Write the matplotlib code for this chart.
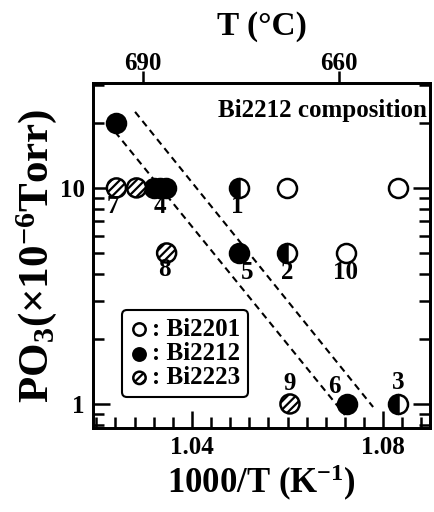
import matplotlib
matplotlib.use('Agg')
import matplotlib.pyplot as plt
from matplotlib.ticker import (FixedLocator, MultipleLocator, LogLocator,
                               NullFormatter, NullLocator, FormatStrFormatter)

plt.rcParams['font.family'] = ['Liberation Serif', 'DejaVu Serif']
plt.rcParams['font.weight'] = 'bold'
plt.rcParams['axes.labelweight'] = 'bold'
plt.rcParams['mathtext.default'] = 'regular'
plt.rcParams['hatch.linewidth'] = 1.6

# 1000/T (K^-1) vs PO3 (x10^-6 Torr)
bi2201_x = [1.0599, 1.0831, 1.0722]
bi2201_y = [10, 10, 5]
bi2212_x = [1.0241, 1.0320, 1.0333, 1.0345, 1.0498, 1.0724]
bi2212_y = [20, 10, 10, 10, 5, 1]
bi2223_x = [1.0242, 1.0284, 1.0347, 1.0605]
bi2223_y = [10, 10, 5, 1]
mixed_x = [1.0498, 1.0599, 1.0831]
mixed_y = [10, 5, 1]

# sample numbers
sample_ids = ['1', '2', '3', '4', '5', '6', '7', '8', '9', '10']
sample_x = [1.0498, 1.0599, 1.0831, 1.0333, 1.0498, 1.0724, 1.0242, 1.0347, 1.0605, 1.0722]
sample_y = [10, 5, 1, 10, 5, 1, 10, 5, 1, 5]

# dashed boundary lines
upper_x = [1.0281, 1.0779]
upper_y = [22.5, 0.968]
lower_x = [1.0239, 1.0720]
lower_y = [18.2, 0.889]

top_ticks = [1.0297, 1.0708]
top_labels = ['690', '660']

# label offsets (pixels) from the marker
label_offsets = [(-2, -19), (0, -20), (0, 21), (0, -19), (8, -20),
                 (-12, 17), (-4, -19), (-2, -17), (0, 20), (0, -20)]

fig = plt.figure(figsize=(4.35, 5.12), dpi=100)
ax = fig.add_axes([0.2138, 0.1641, 0.7747, 0.6738])

ms = 13.7
mew = 1.8
h_open = ax.scatter(bi2201_x, bi2201_y, s=ms**2, facecolor='white',
                    edgecolor='black', linewidth=mew, zorder=3)
h_fill = ax.scatter(bi2212_x, bi2212_y, s=ms**2, facecolor='black',
                    edgecolor='black', linewidth=mew, zorder=3)
h_hatch = ax.scatter(bi2223_x, bi2223_y, s=ms**2, facecolor='white',
                     edgecolor='black', hatch='////', linewidth=mew, zorder=3)
ax.plot(mixed_x, mixed_y, 'o', ms=ms, fillstyle='left', mfc='black',
        mfcalt='white', mec='black', mew=mew, ls='none', zorder=3)

ax.plot(upper_x, upper_y, color='black', lw=1.5, ls=(0, (3.3, 2.3)), zorder=2)
ax.plot(lower_x, lower_y, color='black', lw=1.5, ls=(0, (3.3, 2.3)), zorder=2)

for sid, x, y, off in zip(sample_ids, sample_x, sample_y, label_offsets):
    ax.annotate(sid, (x, y), xytext=off, textcoords='offset pixels',
                ha='center', va='center', fontsize=18)

ax.set_yscale('log')
ax.set_xlim(1.0193, 1.0898)
ax.set_ylim(0.774, 30.6)

ax.xaxis.set_major_locator(FixedLocator([1.04, 1.08]))
ax.xaxis.set_major_formatter(FormatStrFormatter('%.2f'))
ax.xaxis.set_minor_locator(MultipleLocator(0.004))
ax.yaxis.set_major_locator(FixedLocator([1, 10]))
ax.yaxis.set_major_formatter(FormatStrFormatter('%g'))
ax.yaxis.set_minor_locator(LogLocator(subs=range(2, 10)))
ax.yaxis.set_minor_formatter(NullFormatter())

ax.tick_params(which='both', direction='in', width=1.8)
ax.tick_params(which='major', length=12, top=True, right=True,
               labelsize=18, pad=6)
ax.tick_params(axis='x', which='minor', length=8, bottom=False, top=True)
ax.tick_params(axis='y', which='minor', length=8, left=True, right=True)
for sp in ax.spines.values():
    sp.set_linewidth(2)

axt = ax.twiny()
axt.set_xlim(ax.get_xlim())
axt.set_xticks(top_ticks, top_labels)
axt.xaxis.set_minor_locator(NullLocator())
axt.tick_params(axis='x', direction='out', length=9, width=1.8,
                labelsize=18, pad=-3)
for sp in axt.spines.values():
    sp.set_linewidth(2)
axt.set_xlabel('T (°C)', fontsize=24, fontweight='bold', labelpad=12)

ax.set_xlabel('1000/T (K$^{-1}$)', fontsize=25, fontweight='bold')
ax.xaxis.set_label_coords(0.5, -0.101)
ax.set_ylabel('PO$_3$(×10$^{-6}$Torr)', fontsize=31, fontweight='bold')
ax.yaxis.set_label_coords(-0.1, 0.5)

ax.text(0.991, 0.919, 'Bi2212 composition', transform=ax.transAxes,
        ha='right', va='center', fontsize=18)

leg = ax.legend([h_open, h_fill, h_hatch], [': Bi2201', ': Bi2212', ': Bi2223'],
                loc='lower left', bbox_to_anchor=(0.086, 0.09), borderaxespad=0,
                fontsize=18, markerscale=0.65, handlelength=0.8,
                handletextpad=0.1, labelspacing=0.05, borderpad=0.3,
                fancybox=True, edgecolor='black', framealpha=1)
leg.get_frame().set_linewidth(1.5)

fig.savefig('out.png', dpi=100)
